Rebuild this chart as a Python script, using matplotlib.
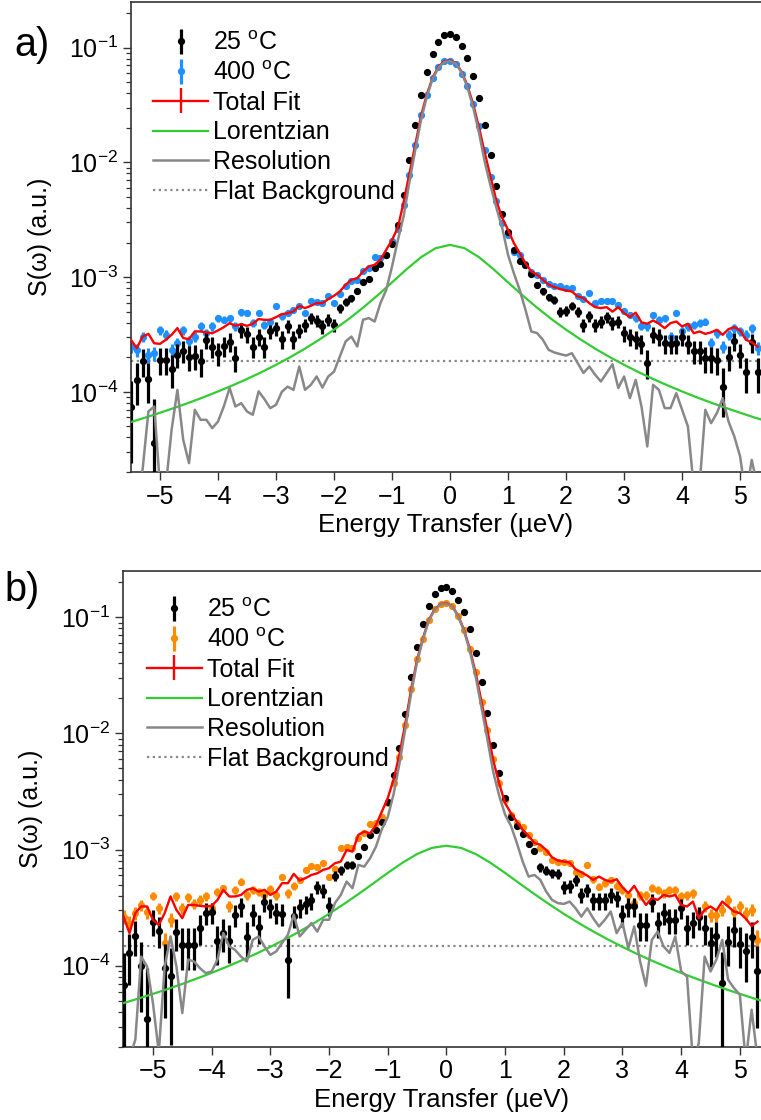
import numpy as np
import matplotlib
matplotlib.use('Agg')
import matplotlib.pyplot as plt
from matplotlib.ticker import LogLocator, NullFormatter, FixedLocator

plt.rcParams['font.family'] = ['Liberation Sans', 'DejaVu Sans']
plt.rcParams['mathtext.fontset'] = 'custom'
plt.rcParams['mathtext.rm'] = 'Liberation Sans'
plt.rcParams['mathtext.it'] = 'Liberation Sans:italic'
plt.rcParams['mathtext.bf'] = 'Liberation Sans:bold'

# energy transfer bins (ueV), 0.1 ueV wide, -5.5 ... 5.3
energy = np.round(np.linspace(-5.5, 5.3, 109), 2)
# grid used for the Lorentzian curve
energy_fine = np.round(np.linspace(-5.5, 5.5, 45), 3)

unit = 1e-4  # all intensities below are in units of 1e-4

# ---------------- sample a ----------------
s25_a = [0.74, 1.27, 1.84, 1.30, 0.36, 1.9, 1.9, 1.59, 2.1, 2.29,
         2.03, 2.05, 1.84, 2.84, 2.48, 2.17, 2.5, 2.74, 1.99, 3.47,
         3.18, 2.48, 3.03, 2.48, 3.36, 3.59, 2.88, 3.76, 2.88, 3.42,
         3.84, 4.4, 4.18, 3.71, 4.24, 3.84, 5.36, 6.1, 6.55, 7.6,
         8.98, 9.7, 12.0, 13.0, 15.5, 19.4,
         28.6, 52.2, 105, 213, 383, 617, 875, 1110, 1280, 1310,
         1230, 1040, 810, 570, 363, 210, 116, 62.5, 35.6,
         24.7, 17.3, 13.7, 12.8, 10.7, 8.57, 7.5, 6.69, 6.34, 5.0,
         5.1, 5.62, 5.0, 3.84, 4.54, 3.84, 4.1, 4.48, 3.97, 4.1,
         3.24, 3.03, 2.88, 2.62, 1.8, 3.14, 3.03, 2.65, 2.62, 2.65,
         3.03, 2.62, 2.25, 2.25, 1.97, 1.97, 1.9, 1.1, 2.03, 2.75,
         2.1, 1.48, 2.7, 1.48]
s400_a = [2.48, 2.32, 3.03, 2.1, 2.16, 3.43, 3.14, 2.32, 2.65, 3.43,
          2.75, 3.03, 3.72, 3.24, 3.72, 4.38, 4.25, 4.38, 3.72, 4.92,
          4.85, 3.97, 4.85, 3.84, 4.1, 5.55, 4.54, 4.85, 5.18, 5.55,
          4.85, 6.14, 6.02, 5.95, 6.78, 5.95, 7.11, 8.4, 9.28, 9.48,
          11.2, 12.0, 14.9, 14.7, 15.5, 20.5,
          26.0, 42.7, 78, 142, 260, 388, 543, 673, 759, 769,
          724, 592, 459, 324, 208, 127, 75.3, 45.6, 29.6,
          23.4, 16.7, 15.6, 13.0, 11.0, 10.5, 9.47, 8.74, 8.4, 8.4,
          8.01, 8.01, 6.78, 6.43, 7.25, 5.93, 6.14, 6.2, 6.14, 5.74,
          5.02, 4.69, 4.39, 3.76, 3.71, 4.69, 4.25, 4.39, 3.03, 4.85,
          3.36, 3.71, 3.84, 4.0, 4.1, 2.65, 3.24, 2.48, 3.14, 3.58,
          3.36, 3.14, 3.58, 2.4]
fit_a = [2.84, 2.4, 3.03, 3.2, 2.65, 2.62, 2.84, 3.14, 3.59, 2.94,
         2.88, 3.36, 3.36, 3.29, 3.24, 3.43, 3.66, 3.97, 3.76, 3.89,
         3.76, 3.92, 4.31, 4.24, 4.24, 4.48, 4.75, 4.85, 5.02, 5.62,
         5.37, 5.62, 5.93, 5.93, 6.43, 6.87, 7.5, 8.57, 9.47, 9.78,
         11.2, 12.4, 12.8, 14.2, 17.3, 21.1,
         27, 45, 80, 142, 255, 392, 548, 682, 762, 776,
         736, 615, 465, 320, 200, 120, 74, 46, 32.7,
         25.8, 19.8, 16.2, 13.2, 11.2, 10.5, 9.47, 8.57, 8.18, 7.85,
         7.64, 7.49, 6.78, 6.56, 5.93, 5.47, 5.37, 5.47, 5.0, 5.47,
         4.85, 4.48, 4.9, 4.03, 3.92, 4.19, 3.92, 3.59, 3.97, 4.1,
         3.71, 3.92, 3.24, 3.36, 3.2, 3.3, 3.47, 3.14, 3.52, 3.66,
         3.43, 2.84, 2.7, 2.48]
res_a = [0.10, 0.13, 0.21, 0.674, 0.745, 0.15, 0.15, 0.467, 1.04, 0.382,
         0.239, 0.697, 0.57, 0.57, 0.482, 0.551, 0.745, 1.08, 0.745, 0.796,
         0.674, 0.631, 1.01, 0.863, 0.721, 0.77, 1.0, 1.11, 1.04, 1.66,
         1.04, 1.15, 1.36, 1.09, 1.36, 1.5, 2.03, 2.75, 3.03, 2.48,
         4.25, 4.39, 4.1, 5.93, 7.74, 12.4,
         21, 34, 68, 128, 235, 375, 535, 668, 750, 765,
         728, 605, 452, 300, 180, 100, 62, 40, 26.7,
         15.6, 10.8, 7.74, 5.19, 3.36, 3.25, 2.84, 2.32, 2.2, 2.13,
         2.07, 2.17, 1.78, 1.46, 1.66, 1.41, 1.23, 1.46, 1.74, 1.08,
         1.36, 0.88, 1.27, 0.745, 0.334, 1.15, 1.04, 0.721, 0.721, 0.973,
         0.697, 0.499, 0.15, 0.15, 0.697, 0.533, 0.652, 0.88, 0.551, 0.408,
         0.273, 0.12, 0.255, 0.15]
lor_a = [0.546, 0.597, 0.657, 0.725, 0.804, 0.897, 1.007, 1.137, 1.294, 1.484,
         1.72, 2.01, 2.38, 2.86, 3.48, 4.30, 5.41, 6.93, 8.99, 11.70,
         14.91, 17.85, 19.1,
         17.85, 14.91, 11.70, 8.99, 6.93, 5.41, 4.30, 3.48, 2.86, 2.38,
         2.01, 1.72, 1.484, 1.294, 1.137, 1.007, 0.897, 0.804, 0.725, 0.657,
         0.597, 0.546]
bg_a = 1.86
err25_a = 0.5
err400_a = 0.3

# ---------------- sample b ----------------
s25_b = [0.687, 1.29, 1.82, 1.0, 0.35, 2.4, 2.01, 0.955, 0.809, 1.94,
         1.52, 1.52, 1.52, 2.11, 2.84, 2.9, 1.62, 1.91, 1.65, 2.75,
         3.24, 1.76, 2.78, 2.15, 3.51, 3.19, 2.87, 2.8, 1.13, 2.7,
         3.19, 3.41, 3.65, 4.75, 4.44, 3.28, 5.94, 6.69, 7.38, 7.38,
         8.83, 10.5, 13.4, 14.8, 17.4, 25.9,
         44, 74.5, 147, 303, 550, 883, 1245, 1580, 1770, 1830,
         1690, 1420, 1110, 785, 495, 278, 149, 79.5, 45.9,
         27.7, 19.0, 16.0, 13.6, 11.2, 9.81, 7.05, 6.6, 6.27, 6.2,
         4.74, 4.87, 5.49, 4.07, 4.5, 3.65, 3.65, 3.65, 4.07, 3.82,
         2.75, 3.24, 3.24, 2.25, 2.25, 3.51, 2.33, 2.84, 2.49, 2.49,
         3.13, 2.11, 2.33, 2.62, 2.11, 1.57, 1.79, 0.71, 1.59, 2.04,
         1.55, 1.33, 1.76, 0.894]
s400_b = [2.65, 2.33, 2.84, 3.34, 2.9, 4.0, 3.13, 1.57, 2.5, 3.95,
          3.13, 3.89, 3.41, 3.69, 3.95, 3.13, 4.35, 4.65, 3.28, 4.5,
          5.31, 4.07, 4.5, 4.35, 4.07, 4.56, 4.07, 5.86, 4.21, 4.88,
          5.49, 6.69, 7.24, 7.15, 7.74, 5.86, 6.78, 10.3, 10.6, 10.3,
          12.5, 13.8, 16.6, 17.1, 19.2, 25.4,
          37.7, 63.1, 119, 239, 434, 653, 945, 1166, 1297, 1313,
          1245, 1020, 773, 538, 339, 188, 108, 59.8, 37.7,
          26.7, 19.9, 16.9, 15.8, 13.4, 11.7, 10.3, 9.62, 8.15, 7.88,
          7.88, 7.63, 6.47, 6.18, 7.38, 5.56, 4.81, 5.14, 5.49, 4.87,
          4.5, 4.07, 3.46, 4.07, 4.07, 4.66, 4.5, 4.22, 4.5, 4.5,
          3.95, 4.07, 4.22, 2.84, 3.24, 2.75, 2.75, 3.03, 3.69, 2.93,
          3.28, 2.84, 3.03, 1.67]
fit_b = [2.65, 1.91, 2.84, 3.24, 3.24, 2.49, 2.25, 2.84, 3.95, 3.03,
         2.57, 3.34, 3.34, 3.28, 3.24, 3.28, 3.69, 4.5, 3.95, 3.95,
         4.07, 4.5, 4.65, 4.35, 4.5, 4.07, 4.35, 5.14, 5.14, 6.18,
         5.42, 5.68, 6.05, 6.25, 6.69, 6.92, 7.63, 7.88, 9.93, 9.61,
         13.4, 14.3, 13.8, 16.3, 21.2, 27.7,
         40, 66, 122, 240, 430, 660, 950, 1170, 1300, 1320,
         1250, 1030, 780, 530, 330, 185, 105, 58, 37,
         25.1, 20.6, 17.4, 14.8, 13.1, 11.4, 11.0, 9.93, 8.59, 8.05,
         7.89, 7.74, 6.78, 6.38, 5.98, 5.49, 5.86, 5.49, 5.31, 5.56,
         4.74, 4.22, 4.88, 4.0, 3.34, 3.82, 3.69, 4.07, 3.95, 4.07,
         3.34, 3.24, 3.57, 2.57, 3.03, 3.24, 2.99, 3.57, 3.24, 2.93,
         2.84, 2.55, 2.2, 2.4]
res_b = [0.12, 0.16, 0.231, 1.2, 0.987, 0.478, 0.18, 0.987, 1.79, 0.987,
         0.392, 1.13, 1.09, 0.955, 0.865, 0.894, 1.13, 1.91, 1.47, 1.37,
         1.2, 1.09, 1.67, 1.79, 1.47, 1.24, 1.33, 1.57, 1.85, 2.75,
         1.79, 2.04, 2.33, 1.97, 2.49, 2.49, 3.46, 4.07, 5.31, 4.65,
         7.38, 7.14, 8.43, 10.6, 15, 19,
         30, 55, 110, 222, 412, 642, 932, 1158, 1290, 1310,
         1240, 1015, 765, 510, 305, 165, 88, 46, 29,
         20, 16, 11.4, 7.89, 5.86, 6.05, 5.49, 4.35, 3.69, 3.46,
         3.41, 3.57, 3.13, 2.65, 3.13, 2.57, 2.18, 2.49, 2.93, 1.91,
         2.33, 1.42, 2.18, 1.09, 0.673, 1.67, 1.97, 1.47, 1.29, 1.79,
         0.894, 0.809, 0.15, 0.216, 1.2, 0.894, 1.13, 1.67, 0.758, 0.643,
         0.563, 0.15, 0.419, 0.16]
lor_b = [0.478, 0.522, 0.573, 0.631, 0.698, 0.777, 0.869, 0.978, 1.108, 1.264,
         1.454, 1.687, 1.976, 2.34, 2.80, 3.39, 4.14, 5.10, 6.30, 7.70,
         9.16, 10.34, 10.8,
         10.34, 9.16, 7.70, 6.30, 5.10, 4.14, 3.39, 2.80, 2.34, 1.976,
         1.687, 1.454, 1.264, 1.108, 0.978, 0.869, 0.777, 0.698, 0.631, 0.573,
         0.522, 0.478]
bg_b = 1.47
err25_b = 0.6
err400_b = 0.35

labels = ['25 $^\\mathrm{o}$C', '400 $^\\mathrm{o}$C', 'Total Fit',
          'Lorentzian', 'Resolution', 'Flat Background']


def draw_panel(ax, s25, s400, fit, lor, res, bg, e25, e400, hot, xlim, leg_xy):
    s25 = np.array(s25) * unit
    s400 = np.array(s400) * unit
    h400 = ax.errorbar(energy, s400, yerr=e400 * unit, fmt='o', color=hot,
                       ms=4.2, elinewidth=2.3, capsize=0, zorder=2)
    h25 = ax.errorbar(energy, s25, yerr=e25 * unit, fmt='o', color='black',
                      ms=4.2, elinewidth=2.3, capsize=0, zorder=3)
    hfit = ax.errorbar(energy, np.array(fit) * unit, yerr=0, color='#ff0000',
                       lw=1.7, elinewidth=1.7, capsize=0, zorder=4)
    hlor, = ax.plot(energy_fine, np.array(lor) * unit, color='#33cc33',
                    lw=1.6, zorder=4)
    hres, = ax.plot(energy, np.array(res) * unit, color='#888888',
                    lw=1.8, zorder=5)
    hbg, = ax.plot(energy, np.full(len(energy), bg * unit), color='#888888',
                   lw=1.6, ls=(0, (1, 1.6)), zorder=1)

    ax.set_yscale('log')
    ax.set_xlim(*xlim)
    ax.set_ylim(2e-5, 0.25)
    ax.xaxis.set_major_locator(FixedLocator(range(-5, 6)))
    ax.yaxis.set_major_locator(LogLocator(base=10, numticks=10))
    ax.yaxis.set_minor_locator(LogLocator(base=10, subs=np.arange(2, 10), numticks=20))
    ax.yaxis.set_minor_formatter(NullFormatter())
    ax.tick_params(axis='both', which='major', direction='out', length=6,
                   width=1.0, color='#333333')
    ax.tick_params(axis='y', which='minor', direction='out', length=3.5,
                   width=0.9, color='#333333')
    ax.tick_params(axis='x', labelsize=18, pad=3)
    ax.tick_params(axis='y', labelsize=18, pad=3)
    for side in ('left', 'top', 'bottom'):
        ax.spines[side].set_linewidth(1.2)
        ax.spines[side].set_color('#333333')
    ax.spines['right'].set_visible(False)

    ax.set_xlabel('Energy Transfer (µeV)', fontsize=18.6, labelpad=3)
    ax.set_ylabel('S(ω) (a.u.)', fontsize=18)
    ax.yaxis.set_label_coords(-0.125, 0.5)

    leg = ax.legend([h25, h400, hfit, hlor, hres, hbg], labels,
                    loc='upper left', bbox_to_anchor=leg_xy, frameon=False,
                    fontsize=18, handlelength=2.2, handletextpad=0.2,
                    labelspacing=0.23, borderpad=0, borderaxespad=0)
    return leg


fig = plt.figure(figsize=(7.61, 11.2), dpi=100)
ax_a = fig.add_axes([131 / 761, 1 - 472 / 1120, 630 / 761, 470 / 1120])
ax_b = fig.add_axes([123 / 761, 1 - 1047 / 1120, 638 / 761, 476 / 1120])

draw_panel(ax_a, s25_a, s400_a, fit_a, lor_a, res_a, bg_a, err25_a, err400_a,
           '#1e90ff', (-5.5, 5.36), (0.035, 0.938))
draw_panel(ax_b, s25_b, s400_b, fit_b, lor_b, res_b, bg_b, err25_b, err400_b,
           '#ff8c00', (-5.51, 5.36), (0.037, 0.943))

fig.text(14 / 761, 1 - 45 / 1120, 'a)', fontsize=28.5, va='center', ha='left')
fig.text(4 / 761, 1 - 590 / 1120, 'b)', fontsize=28.5, va='center', ha='left')

fig.savefig('out.png', dpi=100)
